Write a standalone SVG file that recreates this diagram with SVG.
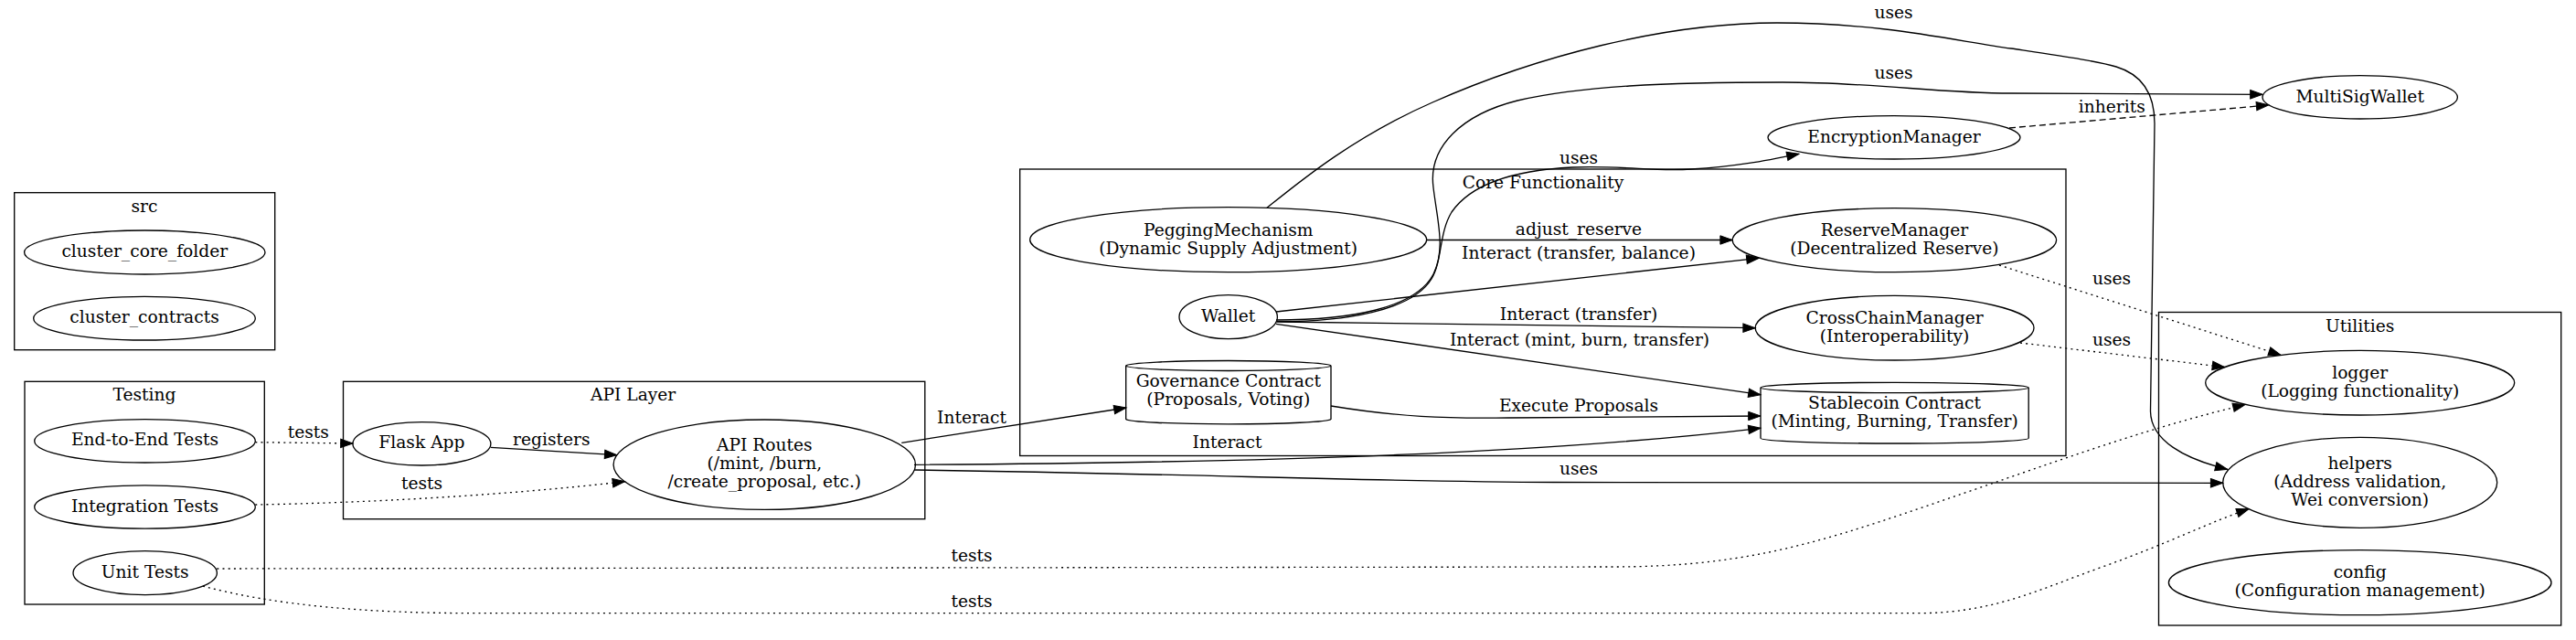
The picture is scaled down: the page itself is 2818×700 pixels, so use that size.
<svg xmlns="http://www.w3.org/2000/svg" width="2818" height="700" viewBox="0 0 2818 700">
<defs>
<style>
text{font-family:"DejaVu Serif","Liberation Serif",serif;font-size:18.67px;text-anchor:middle;fill:#000}
.shape{fill:none;stroke:#000;stroke-width:1.33}
.cl{fill:none;stroke:#000;stroke-width:1.33}
.e{fill:none;stroke:#000;stroke-width:1.33}
.dot{stroke-dasharray:2,4.2}
.dash{stroke-dasharray:7,4}
.ah{marker-end:url(#arr)}
</style>
<marker id="arr" markerUnits="userSpaceOnUse" markerWidth="15" markerHeight="11" refX="13.3" refY="4.7" orient="auto" overflow="visible">
<path d="M0,0 L13.3,4.7 L0,9.4 Z" fill="#000" stroke="#000" stroke-width="1" stroke-dasharray="none"/>
</marker>
</defs>
<rect width="2818" height="700" fill="#fff"/>

<g id="clusters">
<g id="cluster_src"><rect class="cl" x="15.7" y="210.7" width="285" height="172"/><text x="158" y="231.7">src</text></g>
<g id="cluster_testing"><rect class="cl" x="27" y="417.3" width="262.3" height="243.7"/><text x="158" y="438.3">Testing</text></g>
<g id="cluster_api"><rect class="cl" x="375.5" y="417.3" width="636.3" height="150.4"/><text x="692.6" y="438.3">API Layer</text></g>
<g id="cluster_core"><rect class="cl" x="1115.7" y="185" width="1144.3" height="313.5"/><text x="1688" y="206">Core Functionality</text></g>
<g id="cluster_utils"><rect class="cl" x="2361.5" y="341.5" width="440.2" height="342.5"/><text x="2581.7" y="362.5">Utilities</text></g>
</g>

<g id="edges">
<path class="e dot ah" d="M279.3,483.7 L386,485"/>
<text x="337.3" y="479.3">tests</text>
<path class="e ah" d="M536.8,489.3 L674.8,497.7"/>
<text x="603.3" y="486.7">registers</text>
<path class="e dot ah" d="M279.3,552 C400,550 550,542 683.5,526.7"/>
<text x="461.5" y="535">tests</text>
<path class="e ah" d="M986.3,484.3 L1232,446"/>
<text x="1063" y="463.3">Interact</text>
<path class="e ah" d="M1000,508.3 C1400,506 1700,495 1926,468.3"/>
<text x="1342.5" y="490">Interact</text>
<path class="e ah" d="M1000,514 C1300,518 1500,527 1700,527.5 L2431.7,528.3"/>
<text x="1727" y="519.3">uses</text>
<path class="e dot ah" d="M237.3,622 L1764,620 C1900,620 1980,597 2100,556 C2230,512 2340,470 2456,442.7"/>
<text x="1063" y="614">tests</text>
<path class="e dot ah" d="M222,641 C300,662 400,670.7 520,670.7 L2098,670.7 C2180,670.7 2230,645 2300,620 C2370,595 2420,570 2460,556.7"/>
<text x="1063" y="664">tests</text>
<path class="e ah" d="M1456,444 C1530,456 1580,458 1650,457 C1750,456 1850,455 1926,455"/>
<text x="1727" y="450">Execute Proposals</text>
<path class="e ah" d="M1396,354.3 L1926,431.7"/>
<text x="1728" y="377.5">Interact (mint, burn, transfer)</text>
<path class="e ah" d="M1397,352 C1600,355 1800,358.5 1920.2,358.7"/>
<text x="1727" y="350">Interact (transfer)</text>
<path class="e ah" d="M1396,341 L1924,282.3"/>
<text x="1727" y="283.3">Interact (transfer, balance)</text>
<path class="e ah" d="M1560.7,262.5 L1895.2,262.5"/>
<text x="1727" y="256.7">adjust_reserve</text>
<path class="e ah" d="M1396,351.7 C1470,352 1545,340 1566,305 C1578,285 1574,255 1588,232 C1610,200 1660,186 1720,183 C1780,181 1810,188 1850,185 C1900,182 1930,176 1968,168.3"/>
<text x="1727" y="179">uses</text>
<path class="e ah" d="M1396,350 C1475,350 1548,338 1568,300 C1582,272 1572,240 1568,205 C1562,160 1600,125 1660,110 C1730,94 1820,90 1950,90 C2050,90 2120,102 2200,102 C2300,102 2400,103 2475,103.3"/>
<text x="2071.5" y="86">uses</text>
<path class="e ah" d="M1386,227.3 C1420,200 1480,150 1567,112 C1680,62 1820,25 1944,25 C2060,25 2140,45 2200,53 C2260,62 2295,67 2315,73 C2345,82 2357,105 2357,135 L2352.5,450 C2353,482 2390,502 2436.7,513.3"/>
<text x="2071.5" y="20">uses</text>
<path class="e dash ah" d="M2198,140 L2481.7,115"/>
<text x="2310.3" y="122.7">inherits</text>
<path class="e dot ah" d="M2187,290 L2495,388.3"/>
<text x="2310" y="310.7">uses</text>
<path class="e dot ah" d="M2210,375 L2433.5,401.5"/>
<text x="2310" y="378.3">uses</text>
</g>

<g id="cluster_core_folder"><ellipse class="shape" cx="158.3" cy="276" rx="131.7" ry="24"/><text x="158.3" y="281">cluster_core_folder</text></g>
<g id="cluster_contracts"><ellipse class="shape" cx="158" cy="348.2" rx="121.3" ry="23.8"/><text x="158" y="353.2">cluster_contracts</text></g>
<g id="e2e_tests"><ellipse class="shape" cx="158.5" cy="482.3" rx="120.8" ry="23.7"/><text x="158.5" y="487.3">End-to-End Tests</text></g>
<g id="integration_tests"><ellipse class="shape" cx="158.5" cy="554.5" rx="120.8" ry="23.7"/><text x="158.5" y="559.5">Integration Tests</text></g>
<g id="unit_tests"><ellipse class="shape" cx="158.7" cy="626.7" rx="78.7" ry="24"/><text x="158.7" y="631.7">Unit Tests</text></g>
<g id="flask_app"><ellipse class="shape" cx="461.4" cy="485.3" rx="75.5" ry="23.7"/><text x="461.4" y="490.3">Flask App</text></g>
<g id="api_routes"><ellipse class="shape" cx="836.3" cy="508.2" rx="165.2" ry="49.2"/><text x="836.3" y="493.2">API Routes</text><text x="836.3" y="513.2">(/mint, /burn,</text><text x="836.3" y="533.2">/create_proposal, etc.)</text></g>
<g id="pegging"><ellipse class="shape" cx="1343.7" cy="262.2" rx="217" ry="35.5"/><text x="1343.7" y="257.5">PeggingMechanism</text><text x="1343.7" y="277.5">(Dynamic Supply Adjustment)</text></g>
<g id="wallet"><ellipse class="shape" cx="1343.7" cy="346.7" rx="53.7" ry="24"/><text x="1343.7" y="351.7">Wallet</text></g>
<g id="governance"><path class="shape" d="M1231.7,400 A112.2,5.7 0 0 1 1456,400 L1456,458.3 A112.2,5.7 0 0 1 1231.7,458.3 Z M1456,400 A112.2,5.7 0 0 1 1231.7,400"/><text x="1343.8" y="423.3">Governance Contract</text><text x="1343.8" y="443.3">(Proposals, Voting)</text></g>
<g id="reserve"><ellipse class="shape" cx="2072.4" cy="262.7" rx="177.2" ry="35"/><text x="2072.4" y="257.7">ReserveManager</text><text x="2072.4" y="277.7">(Decentralized Reserve)</text></g>
<g id="crosschain"><ellipse class="shape" cx="2072.6" cy="358.7" rx="152.4" ry="35.3"/><text x="2072.6" y="353.7">CrossChainManager</text><text x="2072.6" y="373.7">(Interoperability)</text></g>
<g id="stablecoin"><path class="shape" d="M1926,424 A146.6,5.7 0 0 1 2219.2,424 L2219.2,479.3 A146.6,5.7 0 0 1 1926,479.3 Z M2219.2,424 A146.6,5.7 0 0 1 1926,424"/><text x="2072.6" y="447.3">Stablecoin Contract</text><text x="2072.6" y="467.3">(Minting, Burning, Transfer)</text></g>
<g id="encryption"><ellipse class="shape" cx="2072" cy="150.3" rx="138" ry="23.7"/><text x="2072" y="155.5">EncryptionManager</text></g>
<g id="multisig"><ellipse class="shape" cx="2581.7" cy="106.3" rx="106.7" ry="23.7"/><text x="2581.7" y="111.5">MultiSigWallet</text></g>
<g id="logger"><ellipse class="shape" cx="2581.7" cy="418.7" rx="169" ry="35.3"/><text x="2581.7" y="413.7">logger</text><text x="2581.7" y="433.7">(Logging functionality)</text></g>
<g id="helpers"><ellipse class="shape" cx="2581.7" cy="527.8" rx="150" ry="49.5"/><text x="2581.7" y="512.8">helpers</text><text x="2581.7" y="532.8">(Address validation,</text><text x="2581.7" y="552.8">Wei conversion)</text></g>
<g id="config"><ellipse class="shape" cx="2581.7" cy="637.2" rx="209.3" ry="35.5"/><text x="2581.7" y="632.2">config</text><text x="2581.7" y="652.2">(Configuration management)</text></g>
</svg>
